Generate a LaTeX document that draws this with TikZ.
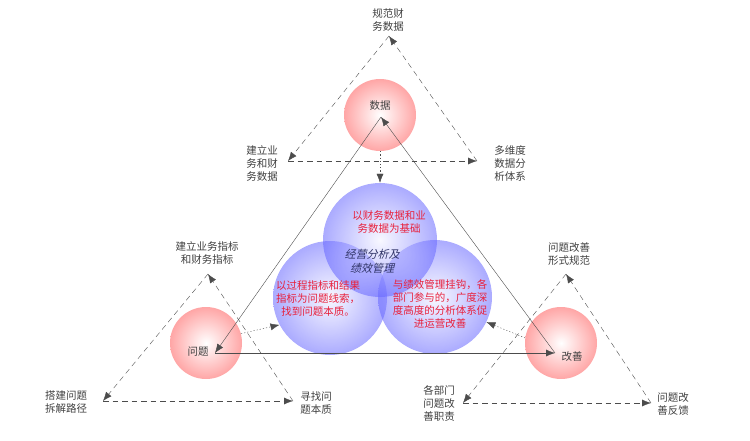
\documentclass[tikz,border=0pt]{standalone}
\usepackage{fontspec}
\setmainfont{Noto Sans CJK SC}
\newfontfamily\slantcjk[FakeSlant=0.25]{Noto Sans CJK SC}
\usepackage{tikz}
\usetikzlibrary{arrows.meta}
\colorlet{linecolor}{black!70}
\colorlet{labelcolor}{black!75}
\definecolor{notecolor}{HTML}{E8203C}
\definecolor{corecolor}{HTML}{2F3366}
\tikzset{
    thin,
    font=\fontsize{10.5}{13}\selectfont,
    % --- bolas ---
    red_ball/.style={circle, minimum size=72pt, inner sep=0pt, shading=radial,
                     inner color=white, outer color=red!35},
    blue_ball/.style={circle, minimum size=114pt, inner sep=0pt, shading=radial,
                      inner color=blue!5, outer color=blue!60, fill opacity=0.55},
    % --- flechas ---
    solid_arrow/.style={draw=linecolor, -{Latex[length=9pt,width=7pt]}},
    dash_arrow/.style={draw=linecolor, dash pattern=on 5.5pt off 4pt, -{Latex[length=9pt,width=7pt]}},
    dot_arrow/.style={draw=linecolor, dash pattern=on 1.2pt off 2pt, -{Latex[length=9pt,width=7pt]}},
    % --- textos ---
    lbl/.style={align=center, text=labelcolor, inner sep=1pt},
    note/.style={align=center, text=notecolor, inner sep=1pt},
    core/.style={align=center, text=corecolor, inner sep=1pt, font=\fontsize{11}{14}\selectfont\slantcjk}
}

\begin{document}
\begin{tikzpicture}[x=1pt,y=-1pt]
    \useasboundingbox (0,0) rectangle (750,441);

    \node[red_ball] (dataC) at (380,115) {};
    \node[red_ball] (probC) at (206,343) {};
    \node[red_ball] (impC) at (561,343) {};

    \node[lbl] (data) at (380,106) {数据};
    \node[lbl] (prob) at (198,352) {问题};
    \node[lbl] (imp) at (572,357) {改善};

    \node[blue_ball] (leftB) at (330,298) {};
    \node[blue_ball] (rightB) at (435,297) {};
    \node[blue_ball] (topB) at (380,240) {};

    \node[note] (base) at (389,222) {以财务数据和业\\务数据为基础};
    \node[core] (mgmt) at (372,261) {经营分析及\\绩效管理};
    \node[note] (clue) at (318,299) {以过程指标和结果\\指标为问题线索，\\找到问题本质。};
    \node[note] (link) at (440,304) {与绩效管理挂钩，各\\部门参与的，广度深\\度高度的分析体系促\\进运营改善};

    % ciclo principal
    \coordinate (dataPt) at (381,117);
    \coordinate (probPt) at (215,353);
    \coordinate (impPt) at (555,353);
    \draw[solid_arrow] (dataPt) -- (probPt);
    \draw[solid_arrow] (probPt) -- (impPt);
    \draw[solid_arrow] (impPt) -- (dataPt);

    \draw[dot_arrow] (dataC.south) -- (topB.north);
    \draw[dot_arrow] (probC.15) -- (leftB.208);
    \draw[dot_arrow] (impC.172) -- (rightB.-26);

    % ciclo de datos
    \node[lbl] (norm) at (388,20) {规范财\\务数据};
    \node[lbl] (build) at (262,163) {建立业\\务和财\\务数据};
    \node[lbl] (multi) at (510,163) {多维度\\数据分\\析体系};
    \coordinate (topA) at (389,36);
    \coordinate (topL) at (288,161);
    \coordinate (topR) at (477,161);
    \draw[dash_arrow] (topA) -- (topL);
    \draw[dash_arrow] (topL) -- (topR);
    \draw[dash_arrow] (topR) -- (topA);

    % ciclo de problemas
    \node[lbl] (index) at (207,253) {建立业务指标\\和财务指标};
    \node[lbl] (path) at (66,402) {搭建问题\\拆解路径};
    \node[lbl] (root) at (316,403) {寻找问\\题本质};
    \coordinate (leftA) at (208,274);
    \coordinate (leftL) at (103,401);
    \coordinate (leftR) at (293,401);
    \draw[dash_arrow] (leftA) -- (leftL);
    \draw[dash_arrow] (leftL) -- (leftR);
    \draw[dash_arrow] (leftR) -- (leftA);

    % ciclo de mejora
    \node[lbl] (form) at (569,254) {问题改善\\形式规范};
    \node[lbl] (duty) at (439,403) {各部门\\问题改\\善职责};
    \node[lbl] (feed) at (673,404) {问题改\\善反馈};
    \coordinate (rightA) at (566,274);
    \coordinate (rightL) at (463,403);
    \coordinate (rightR) at (651,403);
    \draw[dash_arrow] (rightA) -- (rightL);
    \draw[dash_arrow] (rightL) -- (rightR);
    \draw[dash_arrow] (rightR) -- (rightA);
\end{tikzpicture}
\end{document}
